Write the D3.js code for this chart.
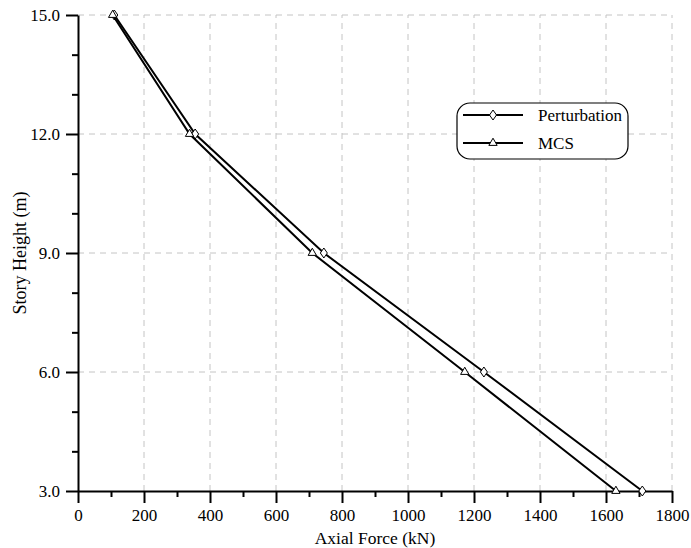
<!DOCTYPE html>
<html>
<head>
<meta charset="utf-8">
<script src="https://cdn.jsdelivr.net/npm/d3@7"></script>
<style>
  body { margin: 0; background: #fff; }
  text { font-family: "Liberation Serif", "Times New Roman", serif; fill: #000; }
</style>
</head>
<body>
<svg id="chart" width="691" height="548"></svg>
<script>
// Story heights and axial forces.
var heights = [15, 12, 9, 6, 3];
var perturbation = [110, 355, 745, 1230, 1710];
var mcs = [105, 338, 710, 1172, 1630];
var seriesNames = ['Perturbation', 'MCS'];

var xTicks = [0, 200, 400, 600, 800, 1000, 1200, 1400, 1600, 1800];
var yTicks = [3, 6, 9, 12, 15];

var svg = d3.select('#chart');
var margin = {left: 78, right: 19, top: 15, bottom: 57};
var width = +svg.attr('width');
var height = +svg.attr('height');

var x = d3.scaleLinear().domain([0, 1800]).range([margin.left, width - margin.right]);
var y = d3.scaleLinear().domain([3, 15]).range([height - margin.bottom, margin.top]);

// Dashed grid lines at the major ticks.
var grid = svg.append('g').attr('stroke', '#c4c4c4').attr('stroke-dasharray', '6,5').attr('stroke-width', 1);
grid.selectAll('line.v')
  .data(xTicks.filter(function(d) { return d > 0; }))
  .enter().append('line')
    .attr('x1', function(d) { return x(d); })
    .attr('x2', function(d) { return x(d); })
    .attr('y1', y(3))
    .attr('y2', y(15));
grid.selectAll('line.h')
  .data(yTicks.filter(function(d) { return d > 3; }))
  .enter().append('line')
    .attr('x1', x(0))
    .attr('x2', x(1800))
    .attr('y1', function(d) { return y(d); })
    .attr('y2', function(d) { return y(d); });

// Minor ticks first, then the major axes on top.
svg.append('g')
  .attr('transform', 'translate(0,' + y(3) + ')')
  .call(d3.axisBottom(x).tickValues(d3.range(100, 1800, 200)).tickSize(6).tickFormat(''))
  .call(function(g) { g.select('.domain').remove(); g.selectAll('line').attr('stroke-width', 2); });
svg.append('g')
  .attr('transform', 'translate(' + x(0) + ',0)')
  .call(d3.axisLeft(y).tickValues([4, 5, 7, 8, 10, 11, 13, 14]).tickSize(6).tickFormat(''))
  .call(function(g) { g.select('.domain').remove(); g.selectAll('line').attr('stroke-width', 2); });

var xAxis = svg.append('g')
  .attr('transform', 'translate(0,' + y(3) + ')')
  .call(d3.axisBottom(x).tickValues(xTicks).tickSize(12).tickSizeOuter(0).tickPadding(6).tickFormat(d3.format('d')));
var yAxis = svg.append('g')
  .attr('transform', 'translate(' + x(0) + ',0)')
  .call(d3.axisLeft(y).tickValues(yTicks).tickSize(12).tickSizeOuter(0).tickPadding(6).tickFormat(d3.format('.1f')));

[xAxis, yAxis].forEach(function(g) {
  g.select('.domain').attr('stroke-width', 2);
  g.selectAll('line').attr('stroke-width', 2);
  g.selectAll('text').style('font-size', '17px').style('font-family', '"Liberation Serif", serif');
});

svg.append('text')
  .attr('x', (x(0) + x(1800)) / 2)
  .attr('y', 544)
  .attr('text-anchor', 'middle')
  .style('font-size', '17.5px')
  .text('Axial Force (kN)');

svg.append('text')
  .attr('transform', 'translate(26,' + ((y(3) + y(15)) / 2) + ') rotate(-90)')
  .attr('text-anchor', 'middle')
  .style('font-size', '18px')
  .text('Story Height (m)');

// Series lines and open markers.
var line = d3.line()
  .x(function(d) { return x(d[0]); })
  .y(function(d) { return y(d[1]); });

var diamond = 'M0,-5L3.5,0L0,5L-3.5,0Z';
var triangle = d3.symbol().type(d3.symbolTriangle).size(30);
var series = [
  {values: perturbation, symbol: diamond},
  {values: mcs, symbol: triangle}
];

series.forEach(function(s) {
  var pts = s.values.map(function(v, i) { return [v, heights[i]]; });
  svg.append('path')
    .datum(pts)
    .attr('fill', 'none')
    .attr('stroke', '#000')
    .attr('stroke-width', 2)
    .attr('d', line);
  svg.selectAll(null)
    .data(pts)
    .enter().append('path')
      .attr('transform', function(d) { return 'translate(' + x(d[0]) + ',' + y(d[1]) + ')'; })
      .attr('d', s.symbol)
      .attr('fill', '#fff')
      .attr('stroke', '#000')
      .attr('stroke-width', 1);
});

// Legend with a rounded frame.
var legend = svg.append('g').attr('transform', 'translate(457,103)');
legend.append('rect')
  .attr('width', 171)
  .attr('height', 56)
  .attr('rx', 13)
  .attr('fill', '#fff')
  .attr('stroke', '#000')
  .attr('stroke-width', 1.2);
seriesNames.forEach(function(name, i) {
  var ly = 12 + i * 28;
  legend.append('line')
    .attr('x1', 6).attr('x2', 66)
    .attr('y1', ly).attr('y2', ly)
    .attr('stroke', '#000').attr('stroke-width', 2);
  legend.append('path')
    .attr('transform', 'translate(36,' + ly + ')')
    .attr('d', series[i].symbol)
    .attr('fill', '#fff').attr('stroke', '#000').attr('stroke-width', 1);
  legend.append('text')
    .attr('x', 81)
    .attr('y', ly + 6)
    .style('font-size', '17px')
    .text(name);
});
</script>
</body>
</html>
